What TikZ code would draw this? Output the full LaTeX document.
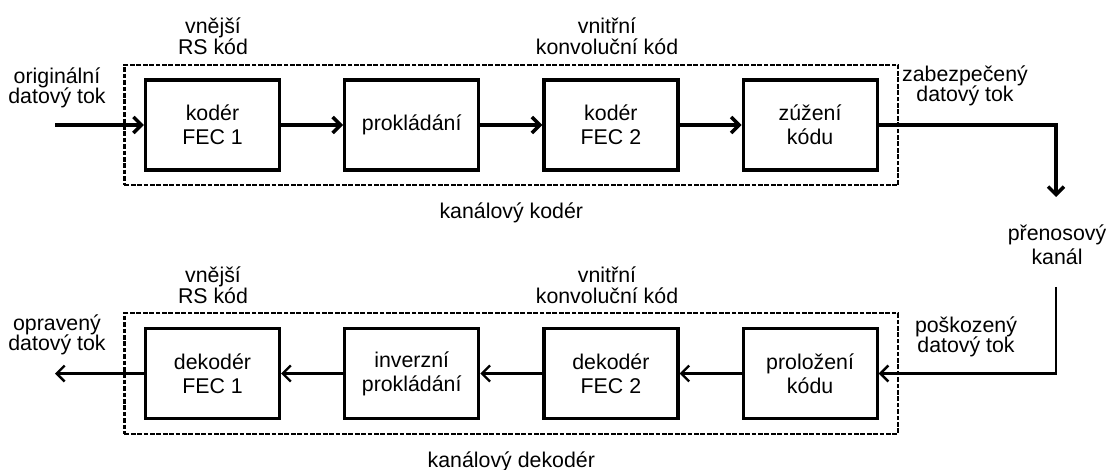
\documentclass[tikz,border=0pt]{standalone}
\usepackage{fontspec}
\setmainfont{Liberation Sans}
\usetikzlibrary{positioning}
\usetikzlibrary{arrows.meta}
\usetikzlibrary{fit}

\newcommand{\blkfont}{\fontsize{16pt}{18pt}\selectfont}
\newcommand{\lblfont}{\fontsize{16pt}{15.5pt}\selectfont}

\begin{document}
\begin{tikzpicture}[
    x=0.75pt, y=-0.75pt,
    node distance=46.5pt,
    blk/.style={rectangle, draw, line width=2.4pt, minimum width=100.5pt, minimum height=67.5pt, align=center, font=\blkfont},
    lbl/.style={align=center, font=\lblfont},
    arrow/.style={-{Straight Barb[length=6pt,width=12pt]}, line width=2.6pt},
    arrowthin/.style={-{Straight Barb[length=6pt,width=12pt]}, line width=1.8pt},
    box/.style={draw, dash pattern=on 3.5pt off 1.3pt, line width=1.8pt, inner xsep=14.6pt, inner ysep=10.2pt}
]
\useasboundingbox (0,0) rectangle (1110,470);

% Channel coder
\node[blk] (k1) at (212.5,125) {kodér\\FEC 1};
\node[blk, right=of k1] (k2) {prokládání};
\node[blk, right=of k2] (k3) {kodér\\FEC 2};
\node[blk, right=of k3] (k4) {zúžení\\kódu};

% Channel decoder
\node[blk] (d1) at (212.5,373.5) {dekodér\\FEC 1};
\node[blk, right=of d1] (d2) {inverzní\\prokládání};
\node[blk, right=of d2] (d3) {dekodér\\FEC 2};
\node[blk, right=of d3] (d4) {proložení\\kódu};

% Dashed frames
\node[box, fit=(k1)(k4)] (coder) {};
\node[box, fit=(d1)(d4)] (decoder) {};
\node[lbl, below=9pt of coder] {kanálový kodér};
\node[lbl, below=9pt of decoder] {kanálový dekodér};

% Code labels
\node[lbl] (rs1) at (213,36) {vnější\\RS kód};
\node[lbl] (cc1) at (607,36) {vnitřní\\konvoluční kód};
\node[lbl] (rs2) at (213,285) {vnější\\RS kód};
\node[lbl] (cc2) at (607,285) {vnitřní\\konvoluční kód};

% Data streams
\node[lbl] (orig) at (57,88) {originální\\datový tok};
\node[lbl] (safe) at (965,86) {zabezpečený\\datový tok};
\node[lbl] (bad) at (966,337) {poškozený\\datový tok};
\node[lbl] (fixed) at (57,335) {opravený\\datový tok};
\node[lbl, font=\blkfont] (kanal) at (1057,245) {přenosový\\kanál};

\coordinate (src) at (55,125);
\coordinate (sink) at (55,373.5);
\coordinate (txin) at (1056,197);
\coordinate (rxout) at (1056,287);

% Forward chain
\draw[arrow] (src) -- (k1);
\draw[arrow] (k1) -- (k2);
\draw[arrow] (k2) -- (k3);
\draw[arrow] (k3) -- (k4);
\draw[arrow] (k4.east) -| (txin);

% Backward chain
\draw[arrowthin] (rxout) |- (d4.east);
\draw[arrowthin] (d4) -- (d3);
\draw[arrowthin] (d3) -- (d2);
\draw[arrowthin] (d2) -- (d1);
\draw[arrowthin] (d1) -- (sink);
\end{tikzpicture}
\end{document}
